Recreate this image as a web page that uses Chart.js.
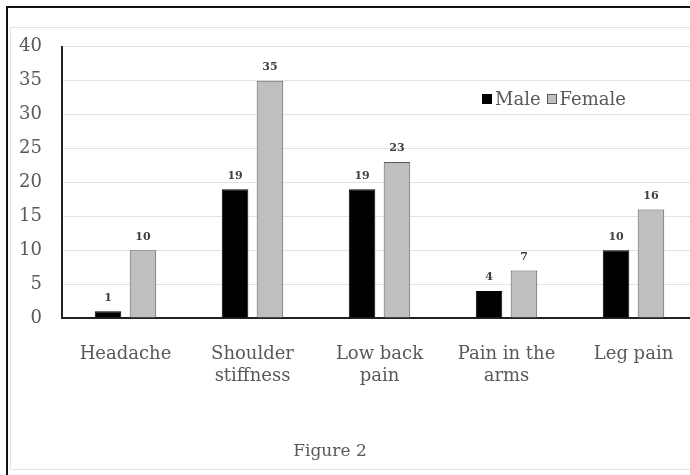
<!DOCTYPE html>
<html>
<head>
<meta charset="utf-8">
<script src="https://cdn.jsdelivr.net/npm/chart.js@4"></script>
<style>
  html, body { margin: 0; padding: 0; width: 690px; height: 475px; overflow: hidden; background: #fff; }
  .outer { position: absolute; left: 6px; top: 6px; width: 700px; height: 480px; border-left: 2px solid #111; border-top: 2px solid #111; }
  .inner { position: absolute; left: 10px; top: 27px; width: 700px; height: 441px; border-left: 1px solid #e3e3e3; border-top: 1px solid #e3e3e3; border-bottom: 1px solid #e3e3e3; }
  #wrap { position: absolute; left: 10px; top: 16px; width: 690px; height: 452px; }
  .legend { position: absolute; left: 482px; top: 88px; font-family: "DejaVu Serif", serif; font-size: 18px; color: #595959; display: flex; align-items: center; white-space: nowrap; }
  .legend .box { display: inline-block; width: 10px; height: 10px; margin-right: 3px; box-sizing: border-box; }
  .caption { position: absolute; left: 0; width: 660px; top: 440px; text-align: center; font-family: "DejaVu Serif", serif; font-size: 17px; color: #595959; }
</style>
</head>
<body>
<div class="outer"></div>
<div class="inner"></div>
<div id="wrap"><canvas id="chart" width="690" height="452"></canvas></div>
<div class="legend">
  <span class="box" style="background:#000;border:1px solid #000"></span><span style="margin-right:6px">Male</span>
  <span class="box" style="background:#bfbfbf;border:1px solid #595959"></span><span>Female</span>
</div>
<div class="caption">Figure 2</div>
<script>
// ── Data ──
const categories = [["Headache"], ["Shoulder", "stiffness"], ["Low back", "pain"], ["Pain in the", "arms"], ["Leg pain"]];
const maleValues = [1, 19, 19, 4, 10];
const femaleValues = [10, 35, 23, 7, 16];
const yMax = 40;
const yStep = 5;

const serif = '"DejaVu Serif", serif';

// ── Value labels above bars ──
const barLabels = {
    id: 'barLabels',
    afterDatasetsDraw(chart) {
        const ctx = chart.ctx;
        ctx.save();
        ctx.font = `bold 11px ${serif}`;
        ctx.fillStyle = '#404040';
        ctx.textAlign = 'center';
        ctx.textBaseline = 'bottom';
        chart.data.datasets.forEach((ds, i) => {
            chart.getDatasetMeta(i).data.forEach((bar, j) => {
                ctx.fillText(ds.data[j], bar.x, bar.y - 8);
            });
        });
        ctx.restore();
    }
};

new Chart(document.getElementById('chart'), {
    type: 'bar',
    data: {
        labels: categories,
        datasets: [
            {
                label: 'Male',
                data: maleValues,
                backgroundColor: '#000000',
                borderColor: '#000000',
                borderWidth: 1,
                categoryPercentage: 0.55,
                barPercentage: 0.76
            },
            {
                label: 'Female',
                data: femaleValues,
                backgroundColor: '#bfbfbf',
                borderColor: '#595959',
                borderWidth: 1,
                categoryPercentage: 0.55,
                barPercentage: 0.76
            }
        ]
    },
    options: {
        responsive: false,
        animation: false,
        layout: { padding: { top: 8, right: 3, left: 0, bottom: 0 } },
        plugins: {
            legend: { display: false },
            tooltip: { enabled: false }
        },
        scales: {
            x: {
                grid: { display: false, drawTicks: false },
                border: { color: '#222', width: 2 },
                ticks: {
                    font: { family: serif, size: 18 },
                    color: '#595959',
                    padding: 26,
                    maxRotation: 0,
                    autoSkip: false
                },
                afterFit: s => { s.height = 150; }
            },
            y: {
                min: 0,
                max: yMax,
                grid: { color: '#e3e3e3', drawTicks: false },
                border: { color: '#222', width: 2 },
                ticks: {
                    stepSize: yStep,
                    font: { family: serif, size: 18 },
                    color: '#595959',
                    padding: 20
                },
                afterFit: s => { s.width = 52; }
            }
        }
    },
    plugins: [barLabels]
});
</script>
</body>
</html>
